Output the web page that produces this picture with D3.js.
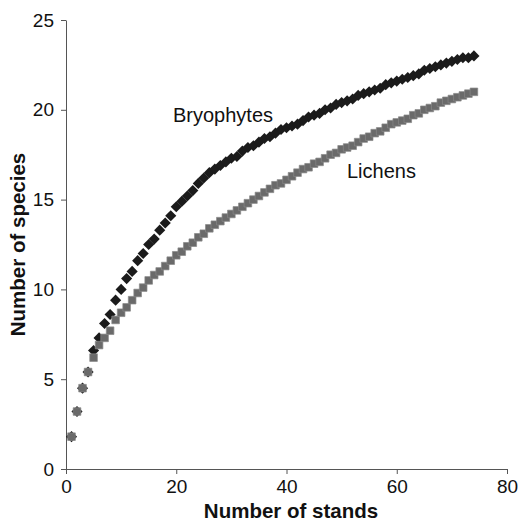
<!DOCTYPE html>
<html>
<head>
<meta charset="utf-8">
<script src="https://cdn.jsdelivr.net/npm/d3@7"></script>
<style>
  body { margin: 0; background: #fff; }
  svg text { font-family: Arial, "Liberation Sans", Helvetica, sans-serif; }
</style>
</head>
<body>
<figure id="chart" style="margin:0"></figure>
<script>
// rarefaction curves: mean species count per number of stands (1..74)
const stands = d3.range(1, 75);

const bryophytes = [
  1.8, 3.2, 4.5, 5.4, 6.6, 7.3, 8.1, 8.6, 9.4, 10.0,
  10.6, 11.0, 11.6, 12.0, 12.5, 12.8, 13.3, 13.7, 14.1, 14.6,
  14.9, 15.2, 15.5, 15.9, 16.2, 16.5, 16.7, 16.9, 17.1, 17.3,
  17.4, 17.7, 17.9, 18.0, 18.2, 18.4, 18.5, 18.7, 18.9, 19.0,
  19.1, 19.2, 19.4, 19.6, 19.7, 19.8, 20.0, 20.1, 20.3, 20.4,
  20.5, 20.6, 20.8, 20.9, 21.0, 21.1, 21.2, 21.4, 21.5, 21.6,
  21.7, 21.8, 21.9, 22.0, 22.2, 22.3, 22.4, 22.5, 22.6, 22.7,
  22.8, 22.9, 22.9, 23.0
];

const lichens = [
  1.8, 3.2, 4.5, 5.4, 6.2, 6.9, 7.3, 7.7, 8.3, 8.7,
  9.0, 9.4, 9.8, 10.1, 10.5, 10.8, 11.0, 11.3, 11.6, 11.9,
  12.1, 12.4, 12.6, 12.9, 13.1, 13.4, 13.6, 13.8, 14.0, 14.2,
  14.4, 14.6, 14.8, 15.0, 15.2, 15.4, 15.6, 15.8, 15.9, 16.1,
  16.3, 16.5, 16.7, 16.8, 17.0, 17.1, 17.3, 17.5, 17.6, 17.8,
  17.9, 18.0, 18.2, 18.4, 18.5, 18.7, 18.8, 19.0, 19.2, 19.3,
  19.4, 19.5, 19.7, 19.8, 20.0, 20.1, 20.2, 20.4, 20.5, 20.6,
  20.7, 20.8, 20.9, 21.0
];

const xTicks = [0, 20, 40, 60, 80];
const yTicks = [0, 5, 10, 15, 20, 25];

const width = 520;
const height = 521;

const svg = d3.select("figure#chart")
  .append("svg")
  .attr("width", width)
  .attr("height", height);

// Scales
const x = d3.scaleLinear().domain([0, 80]).range([66, 507]);
const y = d3.scaleLinear().domain([0, 25]).range([469, 20]);

// Axes
const xAxis = svg.append("g")
  .attr("transform", "translate(0," + y(0) + ")")
  .call(d3.axisBottom(x).tickValues(xTicks).tickSize(5).tickSizeOuter(0).tickPadding(6));

const yAxis = svg.append("g")
  .attr("transform", "translate(" + x(0) + ",0)")
  .call(d3.axisLeft(y).tickValues(yTicks).tickSize(5).tickSizeOuter(0).tickPadding(7));

[xAxis, yAxis].forEach(g => {
  g.select(".domain").attr("stroke", "#555");
  g.selectAll(".tick line").attr("stroke", "#555");
  g.selectAll(".tick text")
    .attr("fill", "#111")
    .style("font-size", "19px")
    .style("font-family", "Arial, 'Liberation Sans', sans-serif");
});

// Axis titles
svg.append("text")
  .attr("x", 291)
  .attr("y", 518)
  .attr("text-anchor", "middle")
  .style("font-size", "20.5px")
  .style("font-weight", "bold")
  .attr("fill", "#111")
  .text("Number of stands");

svg.append("text")
  .attr("transform", "translate(25," + (y(0) + y(25)) / 2 + ")rotate(-90)")
  .attr("text-anchor", "middle")
  .style("font-size", "20.5px")
  .style("font-weight", "bold")
  .attr("fill", "#111")
  .text("Number of species");

// Series: bryophytes (black diamonds) under lichens (grey squares)
const bryoData = stands.map((s, i) => ({ s: s, v: bryophytes[i] }));
const lichData = stands.map((s, i) => ({ s: s, v: lichens[i] }));

svg.selectAll(".bryo")
  .data(bryoData)
  .enter()
  .append("path")
  .attr("class", "bryo")
  .attr("d", d3.symbol().type(d3.symbolSquare).size(62))
  .attr("transform", d => "translate(" + x(d.s) + "," + y(d.v) + ")rotate(45)")
  .attr("fill", "#1b1b1b");

svg.selectAll(".lich")
  .data(lichData)
  .enter()
  .append("path")
  .attr("class", "lich")
  .attr("d", d3.symbol().type(d3.symbolSquare).size(58))
  .attr("transform", d => "translate(" + x(d.s) + "," + y(d.v) + ")")
  .attr("fill", "#6a6a6a")
  .attr("stroke", "#888")
  .attr("stroke-width", 0.7);

// Series labels
svg.append("text")
  .attr("x", 173)
  .attr("y", 122)
  .style("font-size", "20px")
  .attr("fill", "#111")
  .text("Bryophytes");

svg.append("text")
  .attr("x", 347)
  .attr("y", 178)
  .style("font-size", "20px")
  .attr("fill", "#111")
  .text("Lichens");
</script>
</body>
</html>
